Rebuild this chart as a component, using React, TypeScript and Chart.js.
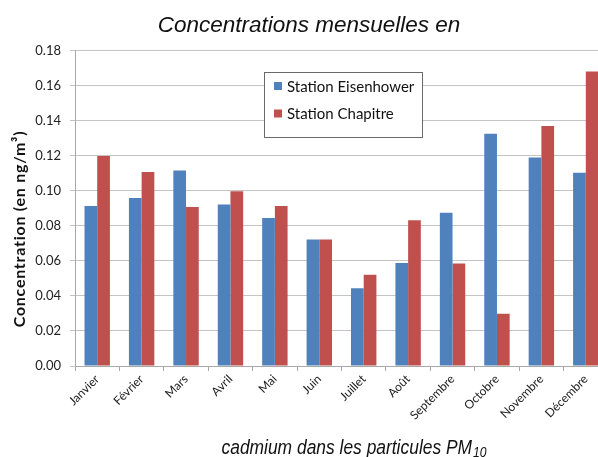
import React, { useEffect, useRef } from 'react';
import { Chart, registerables } from 'chart.js';

Chart.register(...registerables);

const months = ['Janvier', 'Février', 'Mars', 'Avril', 'Mai', 'Juin', 'Juillet', 'Août', 'Septembre', 'Octobre', 'Novembre', 'Décembre'];
const eisenhower = [0.0913, 0.0959, 0.1116, 0.0921, 0.0845, 0.0722, 0.0444, 0.0588, 0.0875, 0.1325, 0.1189, 0.1103];
const chapitre = [0.1198, 0.1107, 0.0907, 0.0997, 0.0913, 0.0722, 0.052, 0.0832, 0.0585, 0.0298, 0.1369, 0.168];
const seriesNames = ['Station Eisenhower', 'Station Chapitre'];
const seriesColors = ['#4F81BD', '#C0504D'];
const titleText = 'Concentrations mensuelles en';
const captionMain = 'cadmium dans les particules PM';
const captionSub = '10';
const yTitle = 'Concentration (en ng/m³)';

const boxLegend = {
  id: 'boxLegend',
  afterDraw(chart: any, _args: any, opts: any) {
    const ctx = chart.ctx;
    ctx.save();
    ctx.fillStyle = '#ffffff';
    ctx.fillRect(opts.x, opts.y, opts.w, opts.h);
    ctx.strokeStyle = '#6a6a6a';
    ctx.lineWidth = 1;
    ctx.strokeRect(opts.x + 0.5, opts.y + 0.5, opts.w, opts.h);
    ctx.font = opts.font;
    ctx.textBaseline = 'middle';
    ctx.textAlign = 'left';
    chart.data.datasets.forEach((ds: any, i: number) => {
      const cy = opts.y + opts.firstRow + i * opts.rowGap;
      ctx.fillStyle = ds.backgroundColor;
      ctx.fillRect(opts.x + opts.boxLeft, cy - opts.box / 2, opts.box, opts.box);
      ctx.fillStyle = '#111';
      ctx.fillText(ds.label, opts.x + opts.textLeft, cy + 1);
    });
    ctx.restore();
  },
};

const sideTitle = {
  id: 'sideTitle',
  afterDraw(chart: any, _args: any, opts: any) {
    const ctx = chart.ctx;
    ctx.save();
    ctx.translate(opts.x, opts.y);
    ctx.rotate(-Math.PI / 2);
    ctx.font = opts.font;
    try { (ctx as any).letterSpacing = opts.spacing; } catch (e) { /* ignore */ }
    ctx.fillStyle = '#111';
    ctx.textAlign = 'center';
    ctx.textBaseline = 'middle';
    ctx.fillText(opts.text, 0, 0, opts.maxWidth);
    ctx.restore();
  },
};

const bottomCaption = {
  id: 'bottomCaption',
  afterDraw(chart: any, _args: any, opts: any) {
    const ctx = chart.ctx;
    ctx.save();
    ctx.fillStyle = '#111';
    ctx.textBaseline = 'alphabetic';
    ctx.textAlign = 'left';
    ctx.font = opts.font;
    const w1 = ctx.measureText(opts.main).width;
    ctx.font = opts.subFont;
    const w2 = ctx.measureText(opts.sub).width;
    const natural = w1 + w2 + 1;
    const k = Math.min(1, opts.width / natural);
    const start = opts.cx - (natural * k) / 2;
    ctx.font = opts.font;
    ctx.fillText(opts.main, start, opts.baseline, w1 * k);
    ctx.font = opts.subFont;
    ctx.fillText(opts.sub, start + (w1 + 1) * k, opts.baseline + 3, w2 * k);
    ctx.restore();
  },
};

export default function App() {
  const ref = useRef<HTMLCanvasElement | null>(null);

  useEffect(() => {
    if (!ref.current) return;
    const chart = new Chart(ref.current, {
      type: 'bar',
      data: {
        labels: months,
        datasets: [
          { label: seriesNames[0], data: eisenhower, backgroundColor: seriesColors[0] },
          { label: seriesNames[1], data: chapitre, backgroundColor: seriesColors[1] },
        ],
      },
      plugins: [boxLegend, sideTitle, bottomCaption],
      options: {
        responsive: false,
        animation: false,
        devicePixelRatio: 1,
        layout: { padding: { left: 10, right: 4, top: 0, bottom: 0 } },
        datasets: { bar: { categoryPercentage: 0.572, barPercentage: 1 } },
        plugins: {
          legend: { display: false },
          tooltip: { enabled: false },
          title: {
            display: true,
            text: titleText,
            color: '#111',
            font: { family: '"Liberation Sans", Arial, sans-serif', size: 22.5, style: 'italic', weight: 'normal', lineHeight: 1.2 },
            padding: { top: 12, bottom: 11.5 },
          },
          boxLegend: {
            x: 264, y: 72, w: 158, h: 65,
            firstRow: 14, rowGap: 27.5, box: 8, boxLeft: 10, textLeft: 23,
            font: '15px Lato, "Open Sans", sans-serif',
          },
          sideTitle: {
            text: yTitle, x: 20, y: 229, maxWidth: 200, spacing: '0.75px',
            font: 'bold 16px Lato, "Open Sans", sans-serif',
          },
          bottomCaption: {
            main: captionMain, sub: captionSub, cx: 354, baseline: 454, width: 265,
            font: 'italic 20px "Liberation Sans", Arial, sans-serif',
            subFont: 'italic 14px "Liberation Sans", Arial, sans-serif',
          },
        } as any,
        scales: {
          x: {
            afterFit: (scale: any) => { scale.height = 91; },
            grid: { display: true, drawOnChartArea: false, drawTicks: true, tickLength: 5, color: '#a8a8a8', offset: true },
            border: { display: true, color: '#a8a8a8' },
            ticks: {
              minRotation: 45, maxRotation: 45, autoSkip: false, padding: 1,
              color: '#222',
              font: { family: 'Lato, "Open Sans", sans-serif', size: 12 },
            },
          },
          y: {
            min: 0, max: 0.18,
            afterFit: (scale: any) => { scale.width = 65; },
            grid: { color: '#c4c4c4', tickLength: 5 },
            border: { display: true, color: '#a8a8a8' },
            ticks: {
              stepSize: 0.02, padding: 9, color: '#222',
              font: { family: 'Lato, "Open Sans", sans-serif', size: 13 },
              callback: (v: any) => Number(v).toFixed(2),
            },
          },
        },
      },
    });
    return () => chart.destroy();
  }, []);

  return (
    <div style={{ position: 'fixed', left: 0, top: 0, width: 598, height: 457, overflow: 'hidden', background: '#fff' }}>
      <canvas ref={ref} width={612} height={457} style={{ display: 'block', width: 612, height: 457 }} />
    </div>
  );
}
